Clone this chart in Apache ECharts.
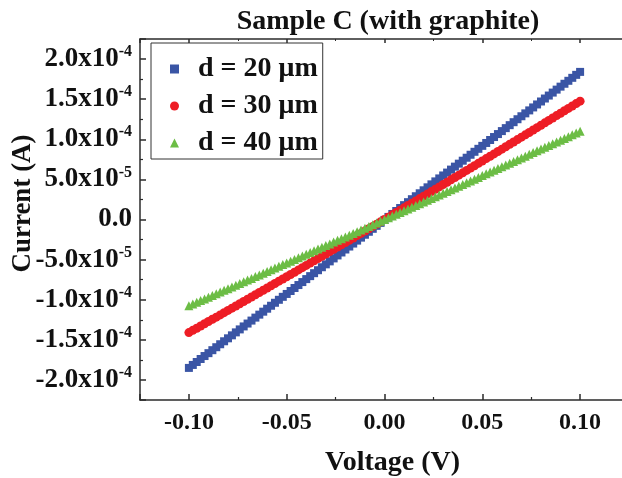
<!DOCTYPE html>
<html><head><meta charset="utf-8">
<script src="https://cdn.jsdelivr.net/npm/echarts@6/dist/echarts.min.js"></script>
<style>html,body{margin:0;padding:0;background:#fff}#c{width:622px;height:478px}</style>
</head><body><div id="c"></div>
<script>
// Voltage (V)
const voltage = [
-0.100,-0.098,-0.096,-0.094,-0.092,-0.090,-0.088,-0.086,-0.084,-0.082,
-0.080,-0.078,-0.076,-0.074,-0.072,-0.070,-0.068,-0.066,-0.064,-0.062,
-0.060,-0.058,-0.056,-0.054,-0.052,-0.050,-0.048,-0.046,-0.044,-0.042,
-0.040,-0.038,-0.036,-0.034,-0.032,-0.030,-0.028,-0.026,-0.024,-0.022,
-0.020,-0.018,-0.016,-0.014,-0.012,-0.010,-0.008,-0.006,-0.004,-0.002,
0.000,0.002,0.004,0.006,0.008,0.010,0.012,0.014,0.016,0.018,
0.020,0.022,0.024,0.026,0.028,0.030,0.032,0.034,0.036,0.038,
0.040,0.042,0.044,0.046,0.048,0.050,0.052,0.054,0.056,0.058,
0.060,0.062,0.064,0.066,0.068,0.070,0.072,0.074,0.076,0.078,
0.080,0.082,0.084,0.086,0.088,0.090,0.092,0.094,0.096,0.098,
0.100];
// Current in microamperes (µA)
const current20um = [
-185.0,-181.3,-177.6,-173.9,-170.2,-166.6,-162.9,-159.2,-155.5,-151.8,
-148.1,-144.4,-140.7,-137.0,-133.3,-129.7,-126.0,-122.3,-118.6,-114.9,
-111.2,-107.5,-103.8,-100.1,-96.4,-92.8,-89.1,-85.4,-81.7,-78.0,
-74.3,-70.6,-66.9,-63.2,-59.5,-55.9,-52.2,-48.5,-44.8,-41.1,
-37.4,-33.7,-30.0,-26.3,-22.6,-19.0,-15.3,-11.6,-7.9,-4.2,
-0.5,3.2,6.9,10.6,14.3,17.9,21.6,25.3,29.0,32.7,
36.4,40.1,43.8,47.5,51.2,54.9,58.5,62.2,65.9,69.6,
73.3,77.0,80.7,84.4,88.1,91.8,95.4,99.1,102.8,106.5,
110.2,113.9,117.6,121.3,125.0,128.7,132.3,136.0,139.7,143.4,
147.1,150.8,154.5,158.2,161.9,165.6,169.2,172.9,176.6,180.3,
184.0];
const current30um = [
-141.0,-138.2,-135.5,-132.7,-130.0,-127.2,-124.4,-121.7,-118.9,-116.1,
-113.3,-110.5,-107.8,-105.0,-102.2,-99.4,-96.6,-93.8,-91.0,-88.2,
-85.4,-82.6,-79.8,-76.9,-74.1,-71.3,-68.5,-65.7,-62.8,-60.0,
-57.2,-54.3,-51.5,-48.7,-45.8,-43.0,-40.1,-37.3,-34.4,-31.6,
-28.7,-25.9,-23.0,-20.1,-17.3,-14.4,-11.5,-8.6,-5.8,-2.9,
0.0,2.9,5.8,8.7,11.6,14.5,17.4,20.3,23.2,26.1,
29.0,31.9,34.8,37.7,40.6,43.6,46.5,49.4,52.4,55.3,
58.2,61.2,64.1,67.0,70.0,72.9,75.9,78.8,81.8,84.8,
87.7,90.7,93.7,96.6,99.6,102.6,105.5,108.5,111.5,114.5,
117.5,120.5,123.5,126.5,129.5,132.5,135.5,138.5,141.5,144.5,
147.5];
const current40um = [
-107.5,-105.4,-103.2,-101.1,-99.0,-96.9,-94.7,-92.6,-90.5,-88.3,
-86.2,-84.1,-81.9,-79.8,-77.7,-75.5,-73.4,-71.2,-69.1,-66.9,
-64.8,-62.7,-60.5,-58.4,-56.2,-54.1,-51.9,-49.8,-47.6,-45.5,
-43.3,-41.1,-39.0,-36.8,-34.7,-32.5,-30.4,-28.2,-26.0,-23.9,
-21.7,-19.5,-17.4,-15.2,-13.0,-10.9,-8.7,-6.5,-4.3,-2.2,
0.0,2.2,4.4,6.5,8.7,10.9,13.1,15.2,17.4,19.6,
21.8,24.0,26.2,28.4,30.5,32.7,34.9,37.1,39.3,41.5,
43.7,45.9,48.1,50.3,52.5,54.7,56.9,59.1,61.3,63.5,
65.7,67.9,70.1,72.3,74.5,76.7,78.9,81.2,83.4,85.6,
87.8,90.0,92.2,94.4,96.7,98.9,101.1,103.3,105.6,107.8,
110.0];
const seriesNames = ['d = 20 \u03bcm', 'd = 30 \u03bcm', 'd = 40 \u03bcm'];
const titleText = 'Sample C (with graphite)';
const xName = 'Voltage (V)';
const yName = 'Current (A)';
const MICRO = 1e-6;

const FONT = '"Liberation Serif","Times New Roman",serif';
const colors = ['#3a55a5', '#ee1d25', '#6cbd45'];
const symbols = ['rect', 'circle', 'triangle'];
const sizes = [8, 9, 9];
const currents = [current20um, current30um, current40um];

function pairs(ys) { return voltage.map((v, i) => [v, ys[i] * MICRO]); }

function sciLabel(v) {
  if (Math.abs(v) < 1e-12) return '{m|0.0}';
  const a = Math.abs(v);
  const e = Math.floor(Math.log10(a) + 1e-9);
  const m = v / Math.pow(10, e);
  return '{m|' + m.toFixed(1) + 'x10}{s|' + e + '}';
}

const axisLineStyle = { color: '#2b2b2b', width: 1.5 };

const chart = echarts.init(document.getElementById('c'), null, { renderer: 'canvas' });
chart.setOption({
  animation: false,
  backgroundColor: '#fff',
  title: {
    text: titleText, left: 383, top: 3, textAlign: 'center',
    textStyle: { fontFamily: FONT, fontWeight: 'bold', fontSize: 28, color: '#111' }
  },
  legend: {
    orient: 'vertical', left: 151, top: 43,
    padding: [12, 5, 2, 19], itemGap: 9,
    itemWidth: 9, itemHeight: 9,
    borderColor: '#333', borderWidth: 1,
    textStyle: { fontFamily: FONT, fontWeight: 'bold', fontSize: 28, color: '#111', padding: [0, 0, 0, 14] },
    data: seriesNames.map((n, i) => ({ name: n, icon: symbols[i] }))
  },
  grid: { left: 140, top: 39, bottom: 78, right: -7, containLabel: false, outerBoundsMode: 'none' },
  xAxis: [{
    type: 'value', min: -0.125, max: 0.125, splitNumber: 5,
    name: xName, nameLocation: 'middle', nameGap: 49, nameMoveOverlap: false,
    nameTextStyle: { fontFamily: FONT, fontWeight: 'bold', fontSize: 28, color: '#111', padding: [0, 0, 0, 16] },
    axisLine: { show: true, onZero: false, lineStyle: axisLineStyle },
    axisTick: { show: true, inside: true, length: 6, lineStyle: axisLineStyle },
    minorTick: { show: true, splitNumber: 2, length: 3, lineStyle: { color: '#2b2b2b', width: 1.2 } },
    axisLabel: { showMinLabel: false, showMaxLabel: false, margin: 11,
      fontFamily: FONT, fontWeight: 'bold', fontSize: 24, color: '#111',
      formatter: v => v.toFixed(2) },
    splitLine: { show: false }
  }, {
    type: 'value', position: 'top', min: -0.125, max: 0.125, splitNumber: 5,
    axisLine: { show: true, onZero: false, lineStyle: axisLineStyle },
    axisTick: { show: true, inside: true, length: 4, lineStyle: axisLineStyle },
    minorTick: { show: true, splitNumber: 2, length: 2 },
    axisLabel: { show: false }, splitLine: { show: false }
  }],
  yAxis: {
    type: 'value', min: -2.25e-4, max: 2.25e-4, splitNumber: 9,
    name: yName, nameLocation: 'middle', nameGap: 103, nameRotate: 90, nameMoveOverlap: false,
    nameTextStyle: { fontFamily: FONT, fontWeight: 'bold', fontSize: 27, color: '#111', padding: [0, 0, 0, 32] },
    axisLine: { show: true, onZero: false, lineStyle: axisLineStyle },
    axisTick: { show: true, inside: true, length: 6, lineStyle: axisLineStyle },
    minorTick: { show: true, splitNumber: 2, length: 3, lineStyle: { color: '#2b2b2b', width: 1.2 } },
    axisLabel: {
      showMinLabel: false, showMaxLabel: false, margin: 8,
      formatter: sciLabel,
      rich: {
        m: { fontFamily: FONT, fontWeight: 'bold', fontSize: 27, color: '#111', lineHeight: 30 },
        s: { fontFamily: FONT, fontWeight: 'bold', fontSize: 16, color: '#111', verticalAlign: 'top', lineHeight: 16 }
      }
    },
    splitLine: { show: false }
  },
  series: seriesNames.map((n, i) => ({
    name: n, type: 'scatter', xAxisIndex: 0, yAxisIndex: 0,
    symbol: symbols[i], symbolSize: sizes[i],
    itemStyle: { color: colors[i], opacity: 1 },
    data: pairs(currents[i]), z: 2 + i
  }))
});
</script>
</body></html>
